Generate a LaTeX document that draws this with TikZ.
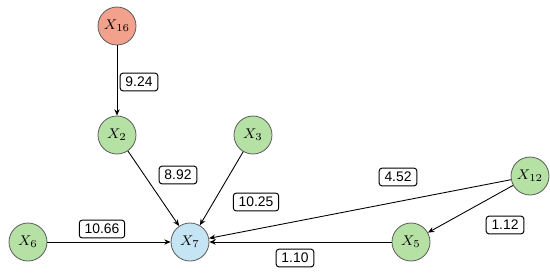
\documentclass[tikz,border=0pt]{standalone}
\usepackage{fontspec}
\setsansfont{Liberation Sans}
\usepackage{tikz}
\usetikzlibrary{arrows.meta, positioning}

\definecolor{srcred}{HTML}{F2A18C}
\definecolor{vargreen}{HTML}{B5E1A4}
\definecolor{tgtblue}{HTML}{C5E5F4}

\begin{document}
\begin{tikzpicture}[
  x=0.02cm, y=-0.02cm,
  var/.style={circle, draw=black!65, line width=0.45pt, minimum size=0.76cm, inner sep=0pt, font=\fontsize{8}{9}\selectfont},
  wt/.style={draw, rounded corners=1.5pt, line width=0.55pt, minimum height=10pt, inner xsep=3pt, inner ysep=1.5pt, font=\sffamily\fontsize{7.9}{9}\selectfont},
  arr/.style={-{Stealth[length=3.6pt, width=3pt]}, line width=0.5pt}
]
\useasboundingbox (0,0) rectangle (550,275);
\node[var, fill=srcred]   (x16) at (117,26)  {$X_{16}$};
\node[var, fill=vargreen] (x2)  at (117,135) {$X_{2}$};
\node[var, fill=vargreen] (x3)  at (253,135) {$X_{3}$};
\node[var, fill=vargreen] (x12) at (530,176) {$X_{12}$};
\node[var, fill=vargreen] (x6)  at (28,242)  {$X_{6}$};
\node[var, fill=tgtblue]  (x7)  at (190,242) {$X_{7}$};
\node[var, fill=vargreen] (x5)  at (411,242) {$X_{5}$};
\node[wt] (w1) at (139,82)  {9.24};
\node[wt] (w2) at (178,175) {8.92};
\node[wt] (w3) at (256,202) {10.25};
\node[wt] (w4) at (398,177) {4.52};
\node[wt] (w5) at (505,225) {1.12};
\node[wt] (w6) at (102,229) {10.66};
\node[wt] (w7) at (295,258) {1.10};
\draw[arr] (x16) -- (x2);
\draw[arr] (x2) -- (x7);
\draw[arr] (x3) -- (x7);
\draw[arr] (x12) -- (x7);
\draw[arr] (x12) -- (x5);
\draw[arr] (x6) -- (x7);
\draw[arr] (x5) -- (x7);
\end{tikzpicture}
\end{document}
